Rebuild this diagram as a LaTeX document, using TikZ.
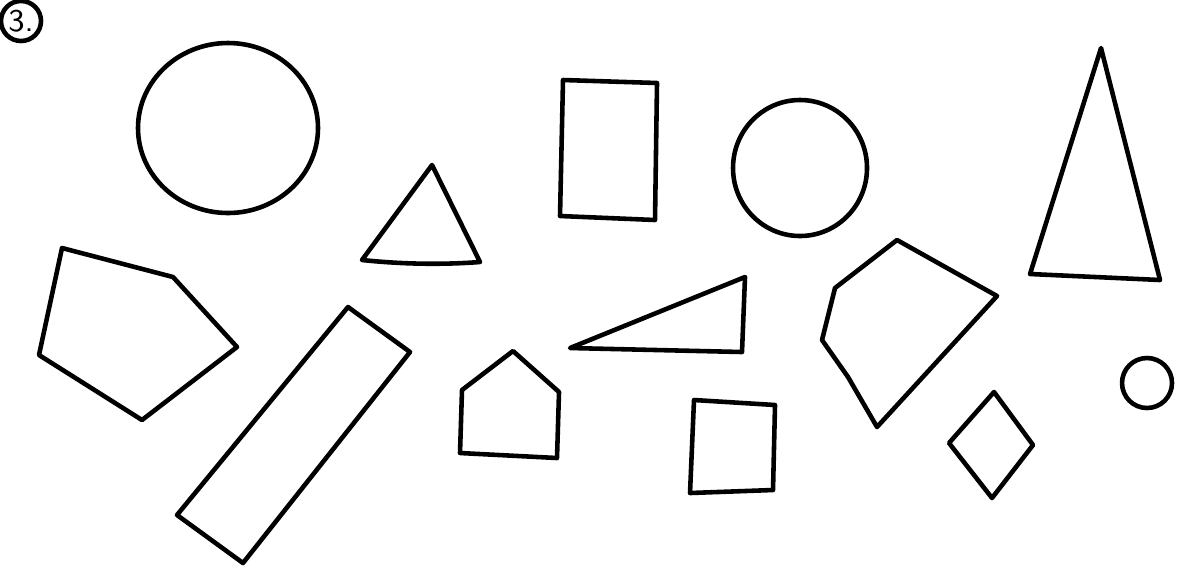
\documentclass[tikz,border=0pt]{standalone}
\usepackage{tikz}
\usetikzlibrary{positioning,calc}

\begin{document}
\begin{tikzpicture}[x=0.01cm, y=-0.01cm, outline/.style={line width=1.3pt, line join=round, line cap=round}]
	\useasboundingbox (0,0) rectangle (1177,569);
	% number in the corner
	\node[outline, draw, circle, minimum size=0.4cm, inner sep=0pt, font=\sffamily\small] (num) at (21,21) {3.};
	% circles
	\draw[outline] (228,128) ellipse (90 and 85);
	\draw[outline] (800,168) ellipse (67 and 68);
	\draw[outline] (1147,383) circle (25);
	% triangles
	\draw[outline] (432,165) -- (480,262) .. controls (440,265) and (400,264) .. (362,260) -- cycle;
	\draw[outline] (1101,48) -- (1160,280) -- (1030,274) -- cycle;
	\draw[outline] (570,348) -- (745,277) -- (742,352) -- cycle;
	% rectangles
	\draw[outline] (563,80) -- (657,83) -- (655,220) -- (560,216) -- cycle;
	\draw[outline] (694,400) -- (775,405) -- (773,490) -- (690,493) -- cycle;
	\draw[outline] (348,307) -- (410,352) -- (243,563) -- (177,515) -- cycle;
	% pentagons
	\draw[outline] (62,248) -- (173,277) -- (237,347) -- (142,420) -- (39,355) -- cycle;
	\draw[outline] (513,351) -- (559,392) -- (557,458) -- (460,453) -- (462,390) -- cycle;
	\draw[outline] (897,240) -- (997,296) -- (877,427) -- (848,377) -- (822,340) -- (835,288) -- cycle;
	% diamond
	\draw[outline] (994,392) -- (1033,445) -- (992,498) -- (949,443) -- cycle;
\end{tikzpicture}
\end{document}
